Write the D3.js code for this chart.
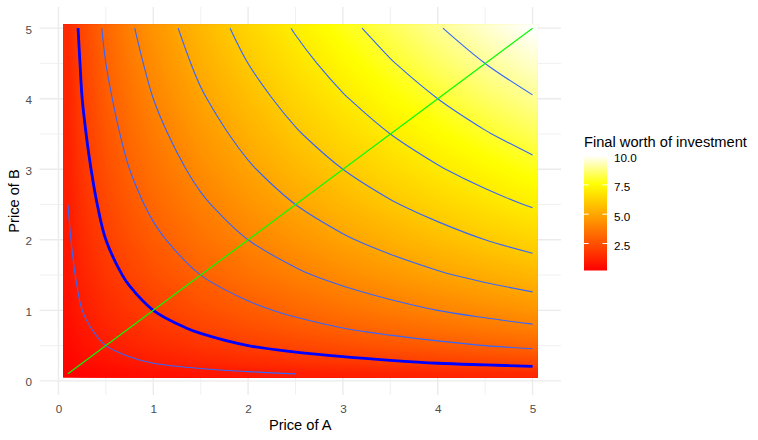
<!DOCTYPE html>
<html>
<head>
<meta charset="utf-8">
<script src="https://cdn.jsdelivr.net/npm/d3@7"></script>
<style>
  body { margin: 0; background: #fff; }
  svg text { font-family: "Liberation Sans", Arial, sans-serif; }
</style>
</head>
<body>
<div id="visual"></div>
<script>
// sample prices for the two assets (grid of the raster)
const priceA = [0.1, 0.25, 0.5, 0.75, 1, 1.5, 2, 2.5, 3, 3.5, 4, 4.5, 5];
const priceB = [0.1, 0.25, 0.5, 0.75, 1, 1.5, 2, 2.5, 3, 3.5, 4, 4.5, 5];

// final worth, one row per price of B, one column per price of A
const worth = [
  [0.20, 0.32, 0.45, 0.55, 0.63, 0.77, 0.89, 1.00, 1.10, 1.18, 1.26, 1.34, 1.41],
  [0.32, 0.50, 0.71, 0.87, 1.00, 1.22, 1.41, 1.58, 1.73, 1.87, 2.00, 2.12, 2.24],
  [0.45, 0.71, 1.00, 1.22, 1.41, 1.73, 2.00, 2.24, 2.45, 2.65, 2.83, 3.00, 3.16],
  [0.55, 0.87, 1.22, 1.50, 1.73, 2.12, 2.45, 2.74, 3.00, 3.24, 3.46, 3.67, 3.87],
  [0.63, 1.00, 1.41, 1.73, 2.00, 2.45, 2.83, 3.16, 3.46, 3.74, 4.00, 4.24, 4.47],
  [0.77, 1.22, 1.73, 2.12, 2.45, 3.00, 3.46, 3.87, 4.24, 4.58, 4.90, 5.20, 5.48],
  [0.89, 1.41, 2.00, 2.45, 2.83, 3.46, 4.00, 4.47, 4.90, 5.29, 5.66, 6.00, 6.32],
  [1.00, 1.58, 2.24, 2.74, 3.16, 3.87, 4.47, 5.00, 5.48, 5.92, 6.32, 6.71, 7.07],
  [1.10, 1.73, 2.45, 3.00, 3.46, 4.24, 4.90, 5.48, 6.00, 6.48, 6.93, 7.35, 7.75],
  [1.18, 1.87, 2.65, 3.24, 3.74, 4.58, 5.29, 5.92, 6.48, 7.00, 7.48, 7.94, 8.37],
  [1.26, 2.00, 2.83, 3.46, 4.00, 4.90, 5.66, 6.32, 6.93, 7.48, 8.00, 8.49, 8.94],
  [1.34, 2.12, 3.00, 3.67, 4.24, 5.20, 6.00, 6.71, 7.35, 7.94, 8.49, 9.00, 9.49],
  [1.41, 2.24, 3.16, 3.87, 4.47, 5.48, 6.32, 7.07, 7.75, 8.37, 8.94, 9.49, 10.00]
];

const contourLevels = [1, 2, 3, 4, 5, 6, 7, 8, 9];
const highlightLevel = 2;
const diagonalEnds = [0.1, 5];

const axisTicks = [0, 1, 2, 3, 4, 5];
const minorTicks = [0.5, 1.5, 2.5, 3.5, 4.5];
const legendBreaks = [2.5, 5, 7.5, 10];
const legendLimits = [0.2, 10];
const colourValues = [0.2, 7.55, 10];
const colourStops = ["#FF0000", "#FFFF00", "#FFFFFF"];

function drawChart() {
    const width = 758, height = 440;
    const panel = { left: 39.5, right: 561, top: 7, bottom: 395 };

    const svg = d3.select("#visual")
        .append("svg")
        .attr("width", width)
        .attr("height", height);

    const x = d3.scaleLinear().domain([-0.2, 5.3]).range([panel.left, panel.right]);
    const y = d3.scaleLinear().domain([-0.2, 5.3]).range([panel.bottom, panel.top]);
    const fill = d3.scaleLinear().domain(colourValues).range(colourStops).clamp(true);

    // grid lines (minor first, then major)
    const grid = svg.append("g").attr("stroke", "#EBEBEB");
    minorTicks.forEach(v => {
        grid.append("line").attr("x1", x(v)).attr("x2", x(v)).attr("y1", panel.top).attr("y2", panel.bottom).attr("stroke-width", 0.7);
        grid.append("line").attr("y1", y(v)).attr("y2", y(v)).attr("x1", panel.left).attr("x2", panel.right).attr("stroke-width", 0.7);
    });
    axisTicks.forEach(v => {
        grid.append("line").attr("x1", x(v)).attr("x2", x(v)).attr("y1", panel.top).attr("y2", panel.bottom).attr("stroke-width", 1.4);
        grid.append("line").attr("y1", y(v)).attr("y2", y(v)).attr("x1", panel.left).attr("x2", panel.right).attr("stroke-width", 1.4);
    });

    const nx = priceA.length, ny = priceB.length;
    const half = 0.05; // each sample is drawn as a tile 0.1 wide

    // --- colour field: pad the table with its own edge values so the
    // marching-squares frame falls outside the tiles, then clip to them
    const padded = [];
    for (let j = -1; j <= ny; j++) {
        const row = worth[Math.max(0, Math.min(ny - 1, j))];
        for (let i = -1; i <= nx; i++) padded.push(row[Math.max(0, Math.min(nx - 1, i))]);
    }
    const padA = d3.scaleLinear()
        .domain([-1.5, -1, ...d3.range(nx), nx, nx + 0.5])
        .range([priceA[0] - 2 * half, priceA[0] - half, ...priceA, priceA[nx - 1] + half, priceA[nx - 1] + 2 * half]);
    const padB = d3.scaleLinear()
        .domain([-1.5, -1, ...d3.range(ny), ny, ny + 0.5])
        .range([priceB[0] - 2 * half, priceB[0] - half, ...priceB, priceB[ny - 1] + half, priceB[ny - 1] + 2 * half]);
    const padProj = d3.geoTransform({
        point: function (a, b) { this.stream.point(x(padA(a - 1.5)), y(padB(b - 1.5))); }
    });
    const padPath = d3.geoPath(padProj);
    const padGen = d3.contours().size([nx + 2, ny + 2]);

    svg.append("clipPath").attr("id", "tiles")
        .append("rect")
        .attr("x", x(priceA[0] - half))
        .attr("y", y(priceB[ny - 1] + half))
        .attr("width", x(priceA[nx - 1] + half) - x(priceA[0] - half))
        .attr("height", y(priceB[0] - half) - y(priceB[ny - 1] + half));

    const step = 0.05;
    const bands = d3.range(0, 200).map(k => k * step);
    svg.append("g")
        .attr("clip-path", "url(#tiles)")
        .selectAll("path")
        .data(bands.map(t => padGen.contour(padded, t)))
        .join("path")
        .attr("d", padPath)
        .attr("fill", d => fill(d.value + step / 2));

    // --- iso lines on the plain table; drop the frame edges of each ring
    const idxA = d3.scaleLinear().domain(d3.range(nx)).range(priceA);
    const idxB = d3.scaleLinear().domain(d3.range(ny)).range(priceB);
    const px = c => x(idxA(c - 0.5));
    const py = c => y(idxB(c - 0.5));
    const flat = worth.flat();
    const contourGen = d3.contours().size([nx, ny]);

    function isoLines(level) {
        const mp = contourGen.contour(flat, level);
        const onFrame = p => p[0] <= 0 || p[0] >= nx || p[1] <= 0 || p[1] >= ny;
        const lines = [];
        mp.coordinates.forEach(poly => poly.forEach(ring => {
            let start = ring.findIndex(onFrame);
            if (start < 0) start = 0;
            let cur = [];
            for (let k = 0; k < ring.length; k++) {
                const p = ring[(start + k) % ring.length];
                if (onFrame(p)) {
                    if (cur.length > 1) lines.push(cur);
                    cur = [];
                } else {
                    const last = cur[cur.length - 1];
                    if (!last || Math.abs(last[0] - p[0]) > 1e-6 || Math.abs(last[1] - p[1]) > 1e-6) cur.push(p);
                }
            }
            if (cur.length > 1) lines.push(cur);
        }));
        return lines;
    }

    const isoLine = d3.line()
        .x(p => px(p[0]))
        .y(p => py(p[1]))
        .curve(d3.curveCatmullRom.alpha(0.5));

    const contourG = svg.append("g").attr("fill", "none");
    contourLevels.forEach(level => {
        isoLines(level).forEach(pts => {
            contourG.append("path")
                .attr("d", isoLine(pts))
                .attr("stroke", "#3366FF")
                .attr("stroke-width", 1.1);
        });
    });
    isoLines(highlightLevel).forEach(pts => {
        contourG.append("path")
            .attr("d", isoLine(pts))
            .attr("stroke", "#0000FF")
            .attr("stroke-width", 2.8);
    });

    // A = B line
    svg.append("path")
        .datum(diagonalEnds)
        .attr("fill", "none")
        .attr("stroke", "#00FF00")
        .attr("stroke-width", 1.2)
        .attr("d", d3.line().x(v => x(v)).y(v => y(v)));

    // axes (no ticks, no axis line)
    svg.append("g")
        .attr("transform", "translate(0," + panel.bottom + ")")
        .call(d3.axisBottom(x).tickValues(axisTicks).tickSize(0).tickPadding(10).tickFormat(d3.format("d")))
        .call(g => g.select(".domain").remove())
        .attr("font-size", 11.7)
        .selectAll("text").attr("fill", "#4D4D4D");

    svg.append("g")
        .attr("transform", "translate(" + panel.left + ",0)")
        .call(d3.axisLeft(y).tickValues(axisTicks).tickSize(0).tickPadding(7.5).tickFormat(d3.format("d")))
        .call(g => g.select(".domain").remove())
        .attr("font-size", 11.7)
        .selectAll("text").attr("fill", "#4D4D4D").attr("dy", "0.42em");

    svg.append("text")
        .attr("x", (panel.left + panel.right) / 2)
        .attr("y", 430)
        .attr("text-anchor", "middle")
        .attr("font-size", 14.67)
        .attr("fill", "#000")
        .text("Price of A");

    svg.append("text")
        .attr("transform", "translate(19," + (panel.top + panel.bottom) / 2 + ") rotate(-90)")
        .attr("text-anchor", "middle")
        .attr("font-size", 14.67)
        .attr("fill", "#000")
        .text("Price of B");

    // legend
    const bar = { x: 584, w: 23, top: 155.5, bottom: 270.5 };
    const ly = d3.scaleLinear().domain(legendLimits).range([bar.bottom, bar.top]);

    const grad = svg.append("defs").append("linearGradient")
        .attr("id", "worthGrad")
        .attr("x1", 0).attr("y1", 1).attr("x2", 0).attr("y2", 0);
    d3.range(0, 41).map(k => legendLimits[0] + (legendLimits[1] - legendLimits[0]) * k / 40)
        .forEach(v => {
            grad.append("stop")
                .attr("offset", (v - legendLimits[0]) / (legendLimits[1] - legendLimits[0]))
                .attr("stop-color", fill(v));
        });

    svg.append("text")
        .attr("x", bar.x)
        .attr("y", 146.5)
        .attr("font-size", 14.67)
        .attr("fill", "#000")
        .text("Final worth of investment");

    svg.append("rect")
        .attr("x", bar.x).attr("y", bar.top)
        .attr("width", bar.w).attr("height", bar.bottom - bar.top)
        .attr("fill", "url(#worthGrad)");

    const tickLen = bar.w / 5;
    legendBreaks.forEach(v => {
        svg.append("line").attr("x1", bar.x).attr("x2", bar.x + tickLen)
            .attr("y1", ly(v)).attr("y2", ly(v)).attr("stroke", "#fff").attr("stroke-width", 1);
        svg.append("line").attr("x1", bar.x + bar.w - tickLen).attr("x2", bar.x + bar.w)
            .attr("y1", ly(v)).attr("y2", ly(v)).attr("stroke", "#fff").attr("stroke-width", 1);
    });

    svg.append("g")
        .attr("transform", "translate(" + (bar.x + bar.w) + ",0)")
        .call(d3.axisRight(ly).tickValues(legendBreaks).tickSize(0).tickPadding(7).tickFormat(d3.format(".1f")))
        .call(g => g.select(".domain").remove())
        .attr("font-size", 11.7)
        .selectAll("text").attr("fill", "#000").attr("dy", "0.5em");
}

drawChart();
</script>
</body>
</html>
